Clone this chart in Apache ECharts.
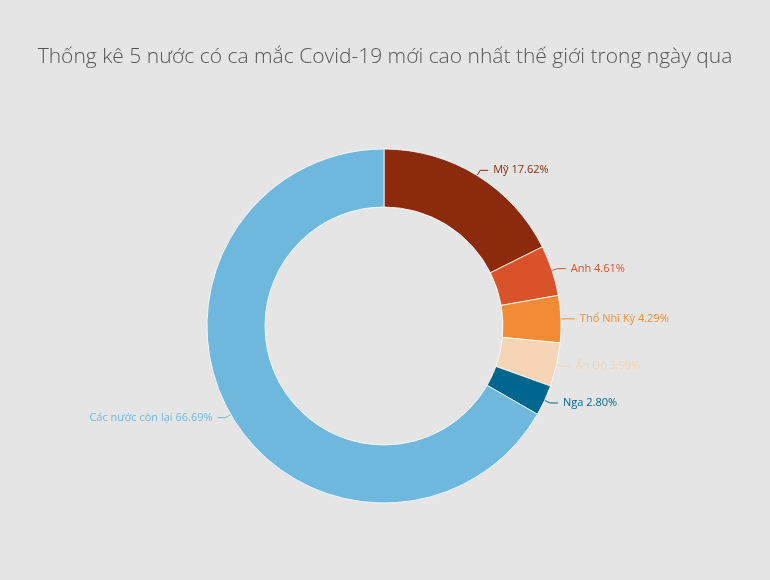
<!DOCTYPE html><html><head><meta charset="utf-8"><script src="https://cdn.jsdelivr.net/npm/echarts@6/dist/echarts.min.js"></script></head><body style="margin:0;background:#e5e5e5"><div id="c" style="width:770px;height:580px"></div><script>
const names=['Mỹ','Anh','Thổ Nhĩ Kỳ','Ấn Độ','Nga','Các nước còn lại'];
const values=[17.62,4.61,4.29,3.99,2.80,66.69];
const colors=['#8b2a0c','#d9532a','#f28b35','#f5d5b6','#00668e','#6db8dc'];
const chart=echarts.init(document.getElementById('c'));
chart.setOption({backgroundColor:'#e5e5e5',
title:{text:'Thống kê 5 nước có ca mắc Covid-19 mới cao nhất thế giới trong ngày qua',left:'center',top:42,textStyle:{fontFamily:'Open Sans',fontWeight:300,fontSize:21,color:'#555'}},
series:[{type:'pie',center:[384,326],radius:[119,177],startAngle:90,clockwise:true,
itemStyle:{borderColor:'#fff',borderWidth:0.8},
label:{formatter:p=>p.name+' '+p.value.toFixed(2)+'%',fontFamily:'Open Sans',fontSize:11,color:'inherit'},
labelLine:{length:6,length2:8},
data:names.map((n,i)=>({name:n,value:values[i],itemStyle:{color:colors[i]},label:{color:colors[i]},labelLine:{lineStyle:{color:colors[i]}}}))}]});
</script></body></html>
